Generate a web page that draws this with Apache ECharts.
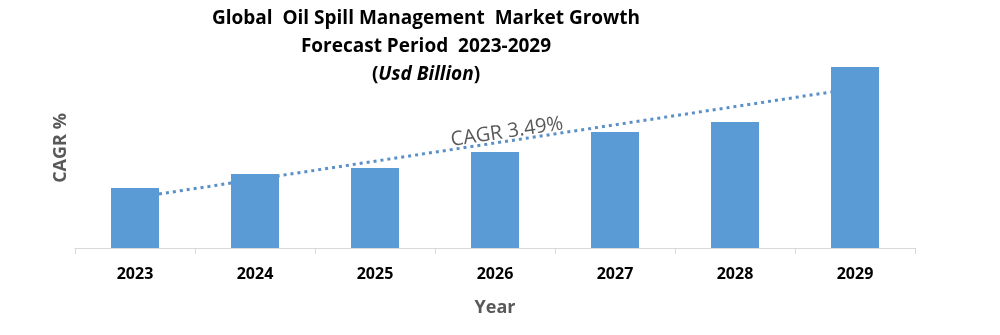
<!DOCTYPE html>
<html>
<head>
<meta charset="utf-8">
<script src="https://cdn.jsdelivr.net/npm/echarts@6/dist/echarts.min.js"></script>
<style>html,body{margin:0;padding:0;background:#fff}#c{width:1000px;height:335px}</style>
</head>
<body>
<div id="c"></div>
<script>
var categories = ['2023','2024','2025','2026','2027','2028','2029'];
var marketValues = [6.0, 7.4, 8.0, 9.6, 11.6, 12.6, 18.1];
var trendPoints = [[0.2, 5.4], [5.8, 15.6]];
var titleLines = ['Global  Oil Spill Management  Market Growth', 'Forecast Period  2023-2029'];
var unitText = 'Usd Billion';
var cagrLabel = 'CAGR 3.49%';

var chart = echarts.init(document.getElementById('c'), null, {renderer: 'canvas'});
var font = '"Open Sans", "Noto Sans", sans-serif';
chart.setOption({
  animation: false,
  backgroundColor: '#ffffff',
  title: [
    {text: titleLines[0], left: 421, top: 4, textAlign: 'center',
     textStyle: {fontFamily: font, fontWeight: 'bold', fontSize: 19, color: '#000'}},
    {text: titleLines[1], left: 421, top: 32, textAlign: 'center',
     textStyle: {fontFamily: font, fontWeight: 'bold', fontSize: 19, color: '#000'}},
    {text: '{n|(}{i|' + unitText + '}{n|)}', left: 421, top: 60, textAlign: 'center',
     textStyle: {rich: {
       n: {fontFamily: font, fontWeight: 'bold', fontSize: 19, color: '#000'},
       i: {fontFamily: font, fontWeight: 'bold', fontStyle: 'italic', fontSize: 19, color: '#000'}
     }}}
  ],
  grid: {left: 75, right: 85, top: 48, bottom: 87, containLabel: false},
  xAxis: [
    {type: 'category', data: categories,
     name: 'Year', nameLocation: 'middle', nameGap: 51,
     nameTextStyle: {fontFamily: font, fontWeight: 'bold', fontSize: 18, color: '#595959'},
     axisLine: {lineStyle: {color: '#d9d9d9', width: 1}},
     axisTick: {show: true, length: 6, lineStyle: {color: '#d9d9d9'}},
     axisLabel: {fontFamily: font, fontWeight: 'bold', fontSize: 16, color: '#000', margin: 18}},
    {type: 'value', min: -0.5, max: 6.5, show: false}
  ],
  yAxis: {type: 'value', min: 0, max: 20, show: true,
    name: 'CAGR %', nameLocation: 'middle', nameGap: 5, nameRotate: 90,
    nameTextStyle: {fontFamily: font, fontWeight: 'bold', fontSize: 18, color: '#595959'},
    axisLine: {show: false}, axisTick: {show: false}, axisLabel: {show: false},
    splitLine: {show: false}},
  series: [
    {type: 'line', xAxisIndex: 1, data: trendPoints, symbol: 'none', z: 1,
     lineStyle: {color: '#5b8fc7', width: 3, type: [3, 4]}},
    {type: 'bar', xAxisIndex: 0, data: marketValues, barWidth: 48, z: 3,
     itemStyle: {color: '#5b9bd5'}}
  ],
  graphic: [
    {type: 'text', x: 507, y: 132, rotation: 8.6 * Math.PI / 180,
     style: {text: cagrLabel, font: '20px ' + font, fill: '#595959',
             textAlign: 'center', textVerticalAlign: 'middle'}}
  ]
});
</script>
</body>
</html>
